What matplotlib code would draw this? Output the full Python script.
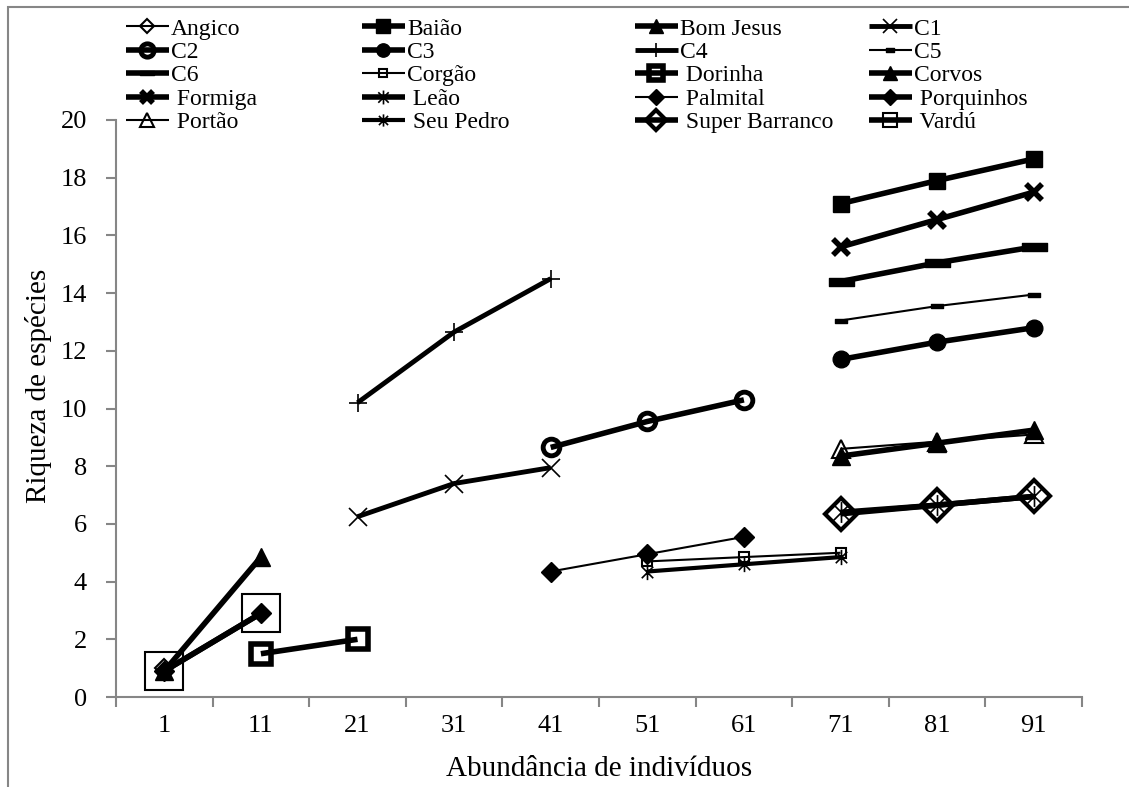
import matplotlib.pyplot as plt
from matplotlib.path import Path
import numpy as np

plt.rcParams['font.family'] = ['Liberation Serif', 'DejaVu Serif']

categorias = ["1", "11", "21", "31", "41", "51", "61", "71", "81", "91"]

# indices das categorias e valores de cada localidade
angico_x = [0];            angico_y = [1.0]
baiao_x = [7, 8, 9];       baiao_y = [17.1, 17.9, 18.65]
bomjesus_x = [0, 1];       bomjesus_y = [0.9, 4.85]
c1_x = [2, 3, 4];          c1_y = [6.25, 7.4, 7.95]
c2_x = [4, 5, 6];          c2_y = [8.65, 9.55, 10.3]
c3_x = [7, 8, 9];          c3_y = [11.7, 12.3, 12.8]
c4_x = [2, 3, 4];          c4_y = [10.2, 12.65, 14.5]
c5_x = [7, 8, 9];          c5_y = [13.05, 13.55, 13.95]
c6_x = [7, 8, 9];          c6_y = [14.4, 15.05, 15.6]
corgao_x = [5, 6, 7];      corgao_y = [4.7, 4.85, 5.0]
dorinha_x = [1, 2];        dorinha_y = [1.5, 2.0]
corvos_x = [7, 8, 9];      corvos_y = [8.35, 8.8, 9.25]
formiga_x = [7, 8, 9];     formiga_y = [15.6, 16.55, 17.5]
leao_x = [7, 8, 9];        leao_y = [6.4, 6.65, 6.95]
palmital_x = [4, 5, 6];    palmital_y = [4.35, 4.95, 5.55]
porquinhos_x = [0, 1];     porquinhos_y = [0.9, 2.9]
portao_x = [7, 8, 9];      portao_y = [8.6, 8.85, 9.1]
seupedro_x = [5, 6, 7];    seupedro_y = [4.35, 4.6, 4.85]
superb_x = [7, 8, 9];      superb_y = [6.35, 6.65, 6.95]
vardu_x = [0, 1];          vardu_y = [0.9, 2.9]

# marcadores do Excel: "traço" e asterisco (vertical + X)
traco = Path([(-1, -0.35), (1, -0.35), (1, 0.35), (-1, 0.35), (-1, -0.35)],
             [Path.MOVETO, Path.LINETO, Path.LINETO, Path.LINETO, Path.CLOSEPOLY])
asterisco = Path([(0, -1), (0, 1), (-0.75, -0.75), (0.75, 0.75), (-0.75, 0.75), (0.75, -0.75)],
                 [Path.MOVETO, Path.LINETO] * 3)

k = 'black'
sem = 'none'
series = [
    ("Angico", angico_x, angico_y, dict(lw=1.5, marker='D', ms=9, mfc=sem, mew=1.5)),
    ("Baião", baiao_x, baiao_y, dict(lw=4, marker='s', ms=12, mfc=k)),
    ("Bom Jesus", bomjesus_x, bomjesus_y, dict(lw=4, marker='^', ms=13, mfc=k)),
    ("C1", c1_x, c1_y, dict(lw=3.5, marker='x', ms=13, mew=1.2)),
    ("C2", c2_x, c2_y, dict(lw=4, marker='o', ms=12, mfc=sem, mew=3.5)),
    ("C3", c3_x, c3_y, dict(lw=4, marker='o', ms=12, mfc=k)),
    ("C4", c4_x, c4_y, dict(lw=3.5, marker='+', ms=13, mew=1.2)),
    ("C5", c5_x, c5_y, dict(lw=1.5, marker=traco, ms=8, mfc=k)),
    ("C6", c6_x, c6_y, dict(lw=4, marker=traco, ms=18, mfc=k)),
    ("Corgão", corgao_x, corgao_y, dict(lw=1.5, marker='s', ms=7, mfc=sem, mew=1.5)),
    (" Dorinha", dorinha_x, dorinha_y, dict(lw=4, marker='s', ms=14, mfc=sem, mew=4)),
    ("Corvos", corvos_x, corvos_y, dict(lw=4, marker='^', ms=13, mfc=k)),
    (" Formiga", formiga_x, formiga_y, dict(lw=4, marker='x', ms=11, mew=4)),
    (" Leão", leao_x, leao_y, dict(lw=4, marker=asterisco, ms=15, mfc=sem, mew=1.2)),
    (" Palmital", palmital_x, palmital_y, dict(lw=1.5, marker='D', ms=10, mfc=k)),
    (" Porquinhos", porquinhos_x, porquinhos_y, dict(lw=4, marker='D', ms=10, mfc=k)),
    (" Portão", portao_x, portao_y, dict(lw=1.5, marker='^', ms=13, mfc=sem, mew=1.5)),
    (" Seu Pedro", seupedro_x, seupedro_y, dict(lw=3, marker=asterisco, ms=11, mfc=sem, mew=1.2)),
    (" Super Barranco", superb_x, superb_y, dict(lw=4, marker='D', ms=16, mfc=sem, mew=3)),
    (" Vardú", vardu_x, vardu_y, dict(lw=4, marker='s', ms=27, mfc=sem, mew=1.5)),
]

fig = plt.figure(figsize=(11.29, 7.87), dpi=100)
ax = fig.add_axes([116/1129, 90/787, 966/1129, 577/787])

handles = []
for nome, xs, ys, st in series:
    h, = ax.plot(xs, ys, color=k, mec=k, label=nome, solid_capstyle='butt', **st)
    handles.append(h)

ax.set_xlim(-0.5, 9.5)
ax.set_ylim(0, 20)
ax.set_yticks(np.arange(0, 21, 2))
ax.set_xticks(range(10))
ax.set_xticklabels(categorias)
ax.set_xticks(np.arange(-0.5, 10, 1), minor=True)
cinza = '#868686'
for s in ['top', 'right']:
    ax.spines[s].set_visible(False)
for s in ['left', 'bottom']:
    ax.spines[s].set_color(cinza)
    ax.spines[s].set_linewidth(1.5)
ax.tick_params(axis='x', which='major', length=0, pad=13, labelsize=19)
ax.tick_params(axis='x', which='minor', length=7, width=1.5, color=cinza, direction='out')
ax.tick_params(axis='y', length=7, width=1.5, color=cinza, direction='out', pad=14, labelsize=19)
ax.set_xlabel("Abundância de indivíduos", fontsize=21, labelpad=14)
ax.set_ylabel("Riqueza de espécies", fontsize=21)
ax.yaxis.set_label_coords(-0.066, 0.54)

# legenda em 4 colunas (linha a linha, como no original)
col_x = [126, 362, 635, 869]
for c in range(4):
    hs = [handles[r * 4 + c] for r in range(5)]
    leg = fig.legend(hs, [h.get_label() for h in hs], loc='upper left',
                     bbox_to_anchor=(col_x[c] / 1129, 1 - 18 / 787),
                     frameon=False, fontsize=17, handlelength=1.8, handletextpad=0.1,
                     labelspacing=0.08, borderpad=0, borderaxespad=0)
    for lh, h in zip(leg.legend_handles, hs):
        lh.set_markersize(min(h.get_markersize() * 0.8, 10))

fig.patches.append(plt.Rectangle((8 / 1129, -0.2), 1.2, 1.2 - 7 / 787,
                                 transform=fig.transFigure, fill=False,
                                 edgecolor=cinza, lw=1.5, figure=fig))

fig.savefig("out.png", dpi=100)
